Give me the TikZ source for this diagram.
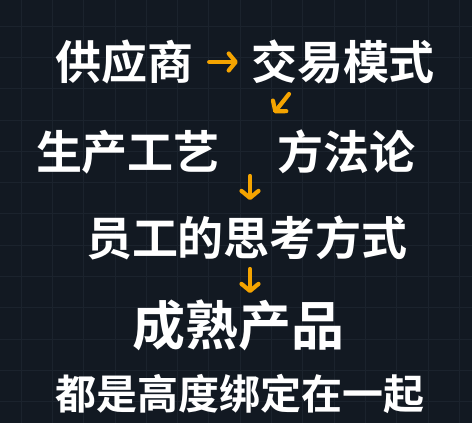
\documentclass[tikz,border=0pt]{standalone}
\usepackage{fontspec}
\usepackage{xcolor}
\usepackage{tikz}
\usetikzlibrary{positioning,calc,arrows.meta}
\newfontfamily\cjk{Noto Sans CJK SC}[UprightFont=* Bold]
\definecolor{bgdark}{HTML}{121922}
\definecolor{gridgray}{HTML}{1B232D}
\definecolor{arrowor}{HTML}{F5A400}
\tikzset{
  word/.style={text=white, inner sep=0pt, font=\cjk\fontsize{46}{50}\selectfont},
  arr/.style={draw=arrowor, line width=4.2pt, line cap=round, -{Straight Barb[length=7pt,width=17pt,round]}}
}

\begin{document}
\begin{tikzpicture}[x=1pt,y=-1pt]
    % Background
    \fill[bgdark] (0,0) rectangle (472,423);
    \useasboundingbox (0,0) rectangle (472,423);
    \foreach \x in {0,...,14}
        \draw[gridgray, line width=0.8pt] ({21+31.3*\x},0) -- ++(0,423);
    \foreach \y in {0,...,12}
        \draw[gridgray, line width=0.8pt] (0,{26+31.3*\y}) -- ++(472,0);

    % Rows
    \node[word] (supplier) at (125,62) {供应商};
    \node[word] (trade) at (343,62) {交易模式};
    \node[word] (craft) at (128,152) {生产工艺};
    \node[word] (methods) at (346,152) {方法论};
    \node[word] (employee) at (247,238) {员工的思考方式};
    \node[word, font=\cjk\fontsize{53}{58}\selectfont] (product) at (238,325) {成熟产品};
    \node[word, font=\cjk\fontsize{41}{46}\selectfont] (bound) at (240,394) {都是高度绑定在一起};

    % Arrow ends
    \coordinate (d1s) at (289,94);
    \coordinate (d1e) at (274,113);
    \coordinate (d2s) at (250,176);
    \coordinate (d2e) at (250,200);
    \coordinate (d3s) at (250,269);
    \coordinate (d3e) at (250,293);

    % Arrows
    \draw[arr] ([xshift=15pt]supplier.east) -- ([xshift=-13pt]trade.west);
    \draw[arr] (d1s) -- (d1e);
    \draw[arr] (d2s) -- (d2e);
    \draw[arr] (d3s) -- (d3e);
\end{tikzpicture}
\end{document}
